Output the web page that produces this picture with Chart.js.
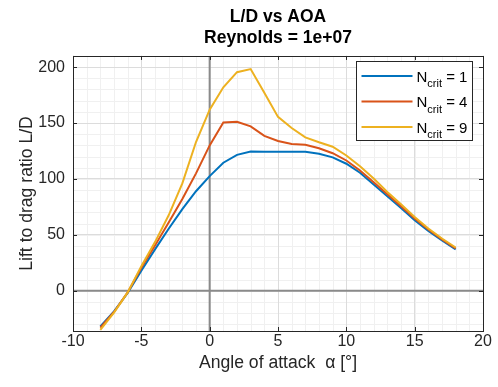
<!DOCTYPE html>
<html>
<head>
<meta charset="utf-8">
<title>L/D vs AOA</title>
<script src="https://cdn.jsdelivr.net/npm/chart.js@4.4.0/dist/chart.umd.min.js"></script>
<style>
  html, body { margin: 0; padding: 0; background: #fff; }
  #wrap { width: 498px; height: 387px; position: relative; }
</style>
</head>
<body>
<div id="wrap"><canvas id="graphic"></canvas></div>
<script>
// angle of attack [deg]
const aoa = [-8, -7, -6, -5, -4, -3, -2, -1, 0, 1, 2, 3, 4, 5, 6, 7, 8, 9, 10, 11, 12, 13, 14, 15, 16, 17, 18];

// lift to drag ratio for each Ncrit
const ldNcrit1 = [-32, -18.5, -2, 18, 37, 55.5, 73, 89, 102.5, 114.5, 121.5, 124.5, 124.3, 124.3, 124.4, 124.4, 122.6, 119.3, 113.6, 105.5, 95, 84.5, 74, 63, 53.5, 45, 37];
const ldNcrit4 = [-33, -19, -1.5, 20.5, 40.5, 61, 82, 105, 130, 150.5, 151.2, 147, 138.5, 134, 131.2, 130.5, 127.5, 123, 116.5, 107.5, 97, 86.3, 75.6, 64.6, 54.8, 46, 37.8];
const ldNcrit9 = [-35, -19.5, -1.5, 22, 43.5, 67.5, 96, 133, 162, 182, 195.5, 198.3, 177, 155.5, 145.5, 137.2, 132.8, 128.8, 121, 111.3, 100.3, 88.4, 77.4, 66, 55.7, 46.7, 38.7];

const ncrit = [1, 4, 9];
const lineColors = ["#0072BD", "#D95319", "#EDB120"];

const xTicks = [-10, -5, 0, 5, 10, 15, 20];
const yTicks = [0, 50, 100, 150, 200];

const FONT = "'Liberation Sans', Arial, Helvetica, sans-serif";
const AXIS_COLOR = "#262626";

function toPoints(values) {
  return aoa.map((a, i) => ({ x: a, y: values[i] }));
}

// minor grid, zero lines, box with inward ticks and the Ncrit legend
const axesBox = {
  id: "axesBox",
  beforeDraw(chart) {
    const { ctx, chartArea: a, scales: { x, y } } = chart;
    ctx.save();
    ctx.strokeStyle = "#f0f0f0";
    ctx.lineWidth = 1;
    ctx.beginPath();
    for (let v = Math.ceil(x.min); v <= x.max; v += 1) {
      const px = Math.round(x.getPixelForValue(v)) + 0.5;
      ctx.moveTo(px, a.top);
      ctx.lineTo(px, a.bottom);
    }
    for (let v = Math.ceil(y.min / 10) * 10; v <= y.max; v += 10) {
      const py = Math.round(y.getPixelForValue(v)) + 0.5;
      ctx.moveTo(a.left, py);
      ctx.lineTo(a.right, py);
    }
    ctx.stroke();
    ctx.restore();
  },
  beforeDatasetsDraw(chart) {
    const { ctx, chartArea: a, scales: { x, y } } = chart;
    const x0 = x.getPixelForValue(0);
    const y0 = y.getPixelForValue(0);
    ctx.save();
    ctx.strokeStyle = "#8a8a8a";
    ctx.lineWidth = 2;
    ctx.beginPath();
    ctx.moveTo(x0, a.top);
    ctx.lineTo(x0, a.bottom);
    ctx.moveTo(a.left, y0);
    ctx.lineTo(a.right, y0);
    ctx.stroke();
    ctx.restore();
  },
  afterDatasetsDraw(chart) {
    const { ctx, chartArea: a, scales: { x, y } } = chart;
    const tick = 4;
    ctx.save();
    ctx.strokeStyle = AXIS_COLOR;
    ctx.lineWidth = 1;
    ctx.beginPath();
    x.ticks.forEach((t) => {
      const px = Math.round(x.getPixelForValue(t.value)) + 0.5;
      ctx.moveTo(px, a.bottom);
      ctx.lineTo(px, a.bottom - tick);
      ctx.moveTo(px, a.top);
      ctx.lineTo(px, a.top + tick);
    });
    y.ticks.forEach((t) => {
      const py = Math.round(y.getPixelForValue(t.value)) + 0.5;
      ctx.moveTo(a.left, py);
      ctx.lineTo(a.left + tick, py);
      ctx.moveTo(a.right, py);
      ctx.lineTo(a.right - tick, py);
    });
    ctx.stroke();
    ctx.strokeRect(Math.round(a.left) + 0.5, Math.round(a.top) + 0.5,
      Math.round(a.right - a.left), Math.round(a.bottom - a.top));

    // legend
    const boxW = 116, boxH = 79;
    const lx = Math.round(a.right - 11 - boxW) + 0.5;
    const ly = Math.round(a.top + 5) + 0.5;
    ctx.fillStyle = "#fff";
    ctx.fillRect(lx, ly, boxW, boxH);
    ctx.strokeRect(lx, ly, boxW, boxH);

    chart.data.datasets.forEach((ds, i) => {
      const rowY = ly + 14.5 + i * 25.5;
      ctx.strokeStyle = ds.borderColor;
      ctx.lineWidth = 2;
      ctx.beginPath();
      ctx.moveTo(lx + 5, rowY);
      ctx.lineTo(lx + 56, rowY);
      ctx.stroke();

      ctx.fillStyle = "#000";
      ctx.textBaseline = "alphabetic";
      ctx.textAlign = "left";
      let tx = lx + 60;
      ctx.font = "15px " + FONT;
      ctx.fillText("N", tx, rowY + 5.5);
      tx += ctx.measureText("N").width;
      ctx.font = "11px " + FONT;
      ctx.fillText("crit", tx, rowY + 11);
      tx += ctx.measureText("crit").width;
      ctx.font = "15px " + FONT;
      ctx.fillText(" = " + ncrit[i], tx, rowY + 5.5);
    });
    ctx.restore();
  },
};

const series = [ldNcrit1, ldNcrit4, ldNcrit9];

window.myChart = new Chart(document.getElementById("graphic"), {
  type: "line",
  data: {
    datasets: series.map((values, i) => ({
      label: "Ncrit = " + ncrit[i],
      data: toPoints(values),
      borderColor: lineColors[i],
      backgroundColor: lineColors[i],
      borderWidth: 2,
      pointRadius: 0,
      tension: 0,
      fill: false,
      order: series.length - i,
    })),
  },
  options: {
    responsive: true,
    maintainAspectRatio: false,
    animation: false,
    layout: {
      padding: { left: 0, right: 15, top: 0, bottom: 0 },
    },
    scales: {
      x: {
        type: "linear",
        min: -10,
        max: 20,
        afterBuildTicks: (scale) => {
          scale.ticks = xTicks.map((v) => ({ value: v }));
        },
        afterFit: (scale) => {
          scale.height = 56;
        },
        border: { display: false },
        grid: { color: "#dcdcdc", lineWidth: 1, drawTicks: false },
        ticks: {
          color: AXIS_COLOR,
          font: { family: FONT, size: 16 },
          padding: 1,
          maxRotation: 0,
          autoSkip: false,
        },
        title: {
          display: true,
          text: "Angle of attack  α [°]",
          color: AXIS_COLOR,
          font: { family: FONT, size: 17.6 },
          padding: { top: 0, bottom: 13 },
        },
      },
      y: {
        type: "linear",
        min: -36,
        max: 210,
        afterBuildTicks: (scale) => {
          scale.ticks = yTicks.map((v) => ({ value: v }));
        },
        afterFit: (scale) => {
          scale.width = 73;
        },
        border: { display: false },
        grid: { color: "#dcdcdc", lineWidth: 1, drawTicks: false },
        ticks: {
          color: AXIS_COLOR,
          font: { family: FONT, size: 16 },
          padding: 8,
        },
        title: {
          display: true,
          text: "Lift to drag ratio L/D",
          color: AXIS_COLOR,
          font: { family: FONT, size: 17.6 },
          padding: { top: 17, bottom: 0 },
        },
      },
    },
    plugins: {
      legend: { display: false },
      title: {
        display: true,
        fullSize: false,
        text: ["L/D vs AOA", "Reynolds = 1e+07"],
        color: "#000",
        font: { family: FONT, size: 17.5, weight: "bold", lineHeight: 1.17 },
        padding: { top: 7, bottom: 8 },
      },
      tooltip: { enabled: false },
    },
  },
  plugins: [axesBox],
});
</script>
</body>
</html>
